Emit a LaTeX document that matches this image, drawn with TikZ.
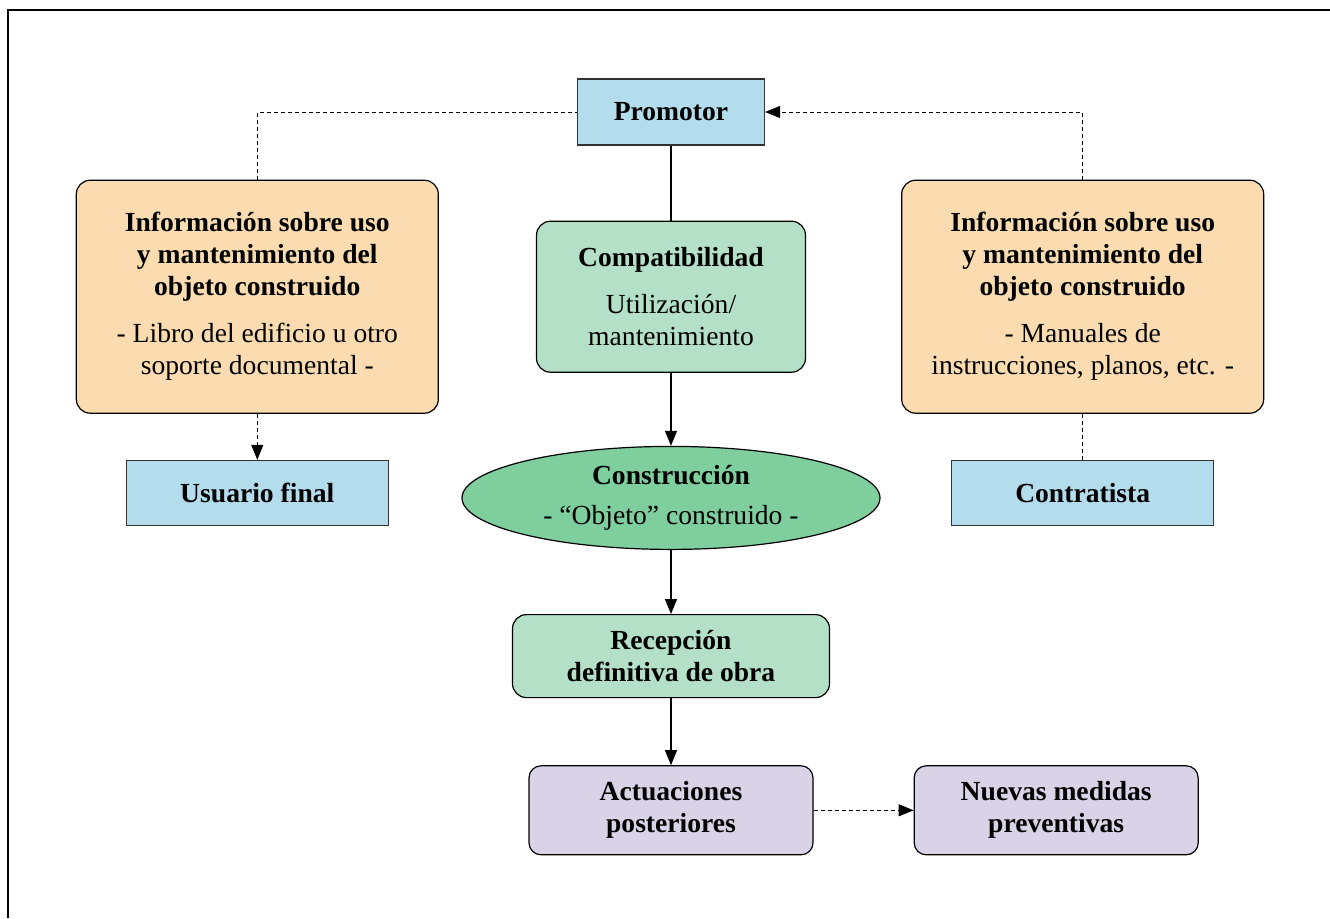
\documentclass[tikz,border=0pt]{standalone}
\usepackage{fontspec}
\setmainfont{Liberation Serif}
\usepackage{xcolor}
\usepackage{tikz}
\usetikzlibrary{arrows.meta}
\usetikzlibrary{positioning}
\usetikzlibrary{shapes.geometric}

\definecolor{blau}{RGB}{179,220,237}
\definecolor{orange1}{RGB}{251,220,176}
\definecolor{gruen1}{RGB}{179,224,199}
\definecolor{gruen2}{RGB}{126,206,158}
\definecolor{lila}{RGB}{218,211,232}

\begin{document}
\begin{tikzpicture}
    [x=0.5pt, y=-0.5pt,
      font=\fontsize{13.8}{16}\selectfont,
      >={Triangle[length=7.5pt,width=6pt]},
      % Stil für Personen
      pers/.style={rectangle, fill=blau, draw=black!80, line width=0.6pt, minimum width=131pt, minimum height=32.5pt, font=\fontsize{13.8}{16}\selectfont\bfseries},
      % Stil für Informationen
      info/.style={rectangle, rounded corners=7pt, fill=orange1, draw=black, line width=0.6pt, minimum width=181pt, minimum height=116.5pt, align=center},
      % Stil für Phasen
      op/.style={rectangle, rounded corners=7pt, fill=gruen1, draw=black, line width=0.6pt, align=center},
      op2/.style={rectangle, rounded corners=6pt, fill=lila, draw=black, line width=0.6pt, minimum width=142pt, minimum height=44.5pt, align=center, font=\fontsize{13.8}{16}\selectfont\bfseries},
      el/.style={ellipse, fill=gruen2, draw=black, line width=0.6pt, inner sep=0pt, minimum width=209pt, minimum height=51.5pt, align=center},
      % gestrichelte Linien
      gest/.style={dash pattern=on 2pt off 1.5pt, line width=0.5pt},
      node distance=4mm]
    \useasboundingbox (0,0) rectangle (1330,918);
    \draw[line width=1pt] (8,918) -- (8,10) -- (1330,10);

    % Knoten
    \node[pers, minimum width=93.5pt, minimum height=33pt] (promotor) at (671,112) {Promotor};
    \node[op, minimum width=134.5pt, minimum height=75.5pt, below=37.5pt of promotor] (compat) {\textbf{Compatibilidad}\\[7.5pt] Utilización/\\ mantenimiento};
    \node[info, left=48.5pt of compat] (infoL) {\textbf{Información sobre uso}\\ \textbf{y mantenimiento del}\\ \textbf{objeto construido}\\[7.5pt] - Libro del edificio u otro\\ soporte documental -};
    \node[info, right=47.5pt of compat] (infoR) {\textbf{Información sobre uso}\\ \textbf{y mantenimiento del}\\ \textbf{objeto construido}\\[7.5pt] - Manuales de\\ instrucciones, planos, etc. -};
    \node[pers, below=23pt of infoL] (usuario) {Usuario final};
    \node[pers, below=23pt of infoR] (contratista) {Contratista};
    \node[el, below=36.5pt of compat] (constr) {\textbf{Construcción}\\[4pt] - “Objeto” construido -};
    \node[op, minimum width=158.5pt, minimum height=41.5pt, font=\fontsize{13.8}{16}\selectfont\bfseries, below=32pt of constr] (recep) {Recepción\\ definitiva de obra};
    \node[op2, below=33.5pt of recep] (actu) {Actuaciones\\ posteriores};
    \node[op2, right=50pt of actu] (nuevas) {Nuevas medidas\\ preventivas};

    % Kanten
    \path[line width=0.6pt] (promotor) edge (compat);
    \path[->, line width=0.6pt]
      (compat) edge (constr)
      (constr) edge (recep)
      (recep) edge (actu);

    \draw[gest] (infoL.north) |- (promotor.west);
    \draw[gest, ->] (infoR.north) |- (promotor.east);
    \draw[gest, ->] (infoL) -- (usuario);
    \draw[gest] (infoR) -- (contratista);
    \draw[gest, ->] (actu) -- (nuevas);

  \end{tikzpicture}
\end{document}
